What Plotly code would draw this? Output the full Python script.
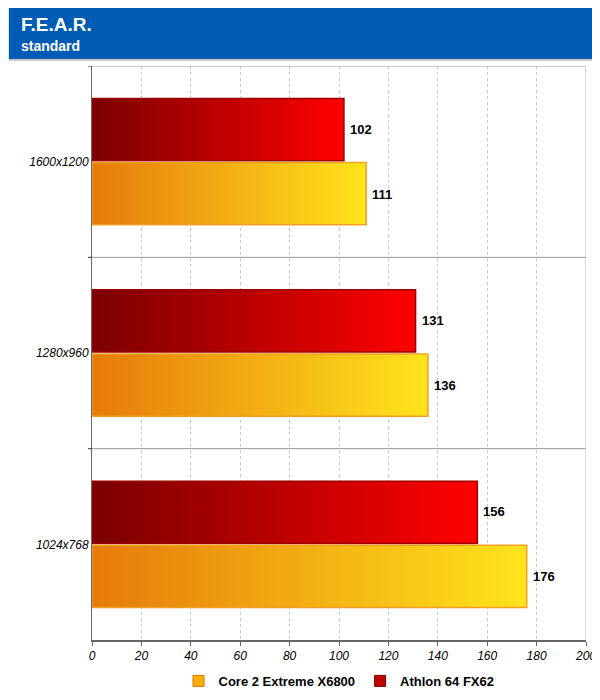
import plotly.graph_objects as go

resolutions = ["1024x768", "1280x960", "1600x1200"]
core2 = [176, 136, 111]
athlon = [156, 131, 102]

H, W = 700, 600
T, B, L, R = 58, 67, 84, 17
ph = H - T - B


def py(px):
    # pixel from top -> paper y
    return 1 + (T - px) / ph


def bar(y0, y1, v, c0, c1, line):
    return go.Scatter(
        x=[0, v, v, 0, 0], y=[y0, y0, y1, y1, y0], mode="lines",
        fill="toself", line=dict(color=line, width=1.5),
        fillgradient=dict(type="horizontal", colorscale=[[0, c0], [1, c1]]),
        hoverinfo="skip", showlegend=False,
    )


fig = go.Figure()
for i, res in enumerate(resolutions):
    fig.add_trace(bar(i + 0.005, i + 0.33, athlon[i], "#7a0000", "#ff0000", "#9a0000"))
    fig.add_trace(bar(i - 0.33, i - 0.005, core2[i], "#e67a0a", "#ffe41c", "#f0a020"))
    fig.add_annotation(x=athlon[i], y=i + 0.17, text=f"<b>{athlon[i]}</b>", showarrow=False,
                       xanchor="left", xshift=4, font=dict(size=13, color="black"))
    fig.add_annotation(x=core2[i], y=i - 0.17, text=f"<b>{core2[i]}</b>", showarrow=False,
                       xanchor="left", xshift=4, font=dict(size=13, color="black"))

fig.add_trace(go.Scatter(x=[None], y=[None], mode="markers", name="Core 2 Extreme X6800",
                         marker=dict(symbol="square", size=11, color="#f5b000",
                                     line=dict(color="#e07000", width=1))))
fig.add_trace(go.Scatter(x=[None], y=[None], mode="markers", name="Athlon 64 FX62",
                         marker=dict(symbol="square", size=11, color="#c00000",
                                     line=dict(color="#800000", width=1))))

fig.add_shape(type="rect", xref="paper", yref="paper", x0=-L / (W - L - R), x1=1 + R / (W - L - R),
              y0=py(51), y1=py(0), fillcolor="#005bb5", line_width=0, layer="below")
fig.add_shape(type="line", xref="paper", yref="paper", x0=-L / (W - L - R), x1=1 + R / (W - L - R),
              y0=py(52), y1=py(52), line=dict(color="#c8c8c8", width=2))
fig.add_annotation(xref="paper", yref="paper", x=-(L - 10) / (W - L - R), y=py(4), text="<b>F.E.A.R.</b>",
                   showarrow=False, xanchor="left", yanchor="top", font=dict(size=19, color="white"))
fig.add_annotation(xref="paper", yref="paper", x=-(L - 10) / (W - L - R), y=py(28), text="<b>standard</b>",
                   showarrow=False, xanchor="left", yanchor="top", font=dict(size=14, color="white"))

fig.update_layout(
    width=W, height=H, margin=dict(l=L, r=R, t=T, b=B),
    plot_bgcolor="white", paper_bgcolor="white",
    font=dict(family="Liberation Sans, Arial", color="black"),
    xaxis=dict(range=[0, 200], dtick=20, showgrid=True, gridcolor="#c8c8c8", griddash="dot",
               showline=True, linecolor="#666", linewidth=2, ticks="outside", ticklen=4,
               tickcolor="#666", tickfont=dict(size=12, style="italic"), zeroline=False, fixedrange=True),
    yaxis=dict(range=[-0.5, 2.5], tickvals=[0, 1, 2], ticktext=resolutions, ticks="",
               tickfont=dict(size=12, style="italic"), showgrid=False, zeroline=False,
               showline=True, linecolor="#666", linewidth=1, mirror=False),
    legend=dict(orientation="h", x=0.5, xanchor="center", y=py(674), yanchor="middle",
                font=dict(size=13, weight="bold"), itemclick=False),
    showlegend=True,
)
for yv in [0.5, 1.5, 2.5]:
    fig.add_shape(type="line", xref="paper", x0=0, x1=1, y0=yv, y1=yv, line=dict(color="#999", width=1))
    fig.add_shape(type="line", xref="paper", x0=-0.008, x1=0, y0=yv, y1=yv, line=dict(color="#333", width=1))
fig.add_shape(type="line", x0=200, x1=200, y0=-0.5, y1=2.5, line=dict(color="#bbb", width=1))

fig.write_html("out.html")
